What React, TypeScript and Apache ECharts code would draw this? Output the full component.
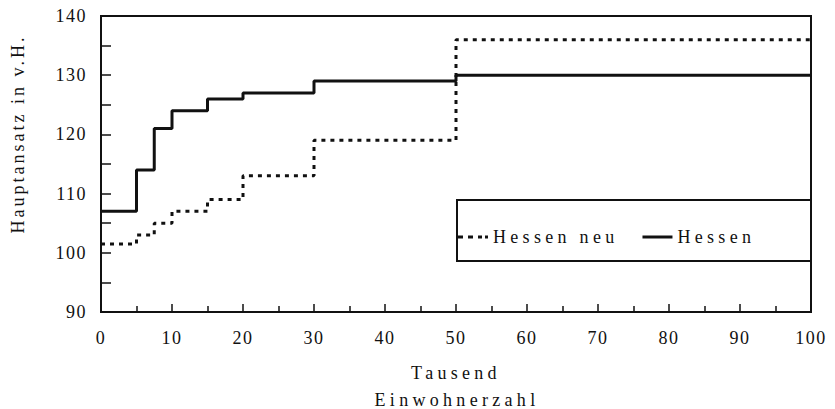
import React, { useEffect, useRef } from "react";
import * as echarts from "echarts";

const xBreaks = [0, 5, 7.5, 10, 15, 20, 30, 50, 100];
const hessen = [107, 114, 121, 124, 126, 127, 129, 130, 130];
const hessenNeu = [101.5, 103, 105, 107, 109, 113, 119, 136, 136];
const seriesNames = ["Hessen neu", "Hessen"];
const xTitle1 = "Tausend";
const xTitle2 = "Einwohnerzahl";
const yTitle = "Hauptansatz in v.H.";

const FONT = "'Liberation Serif', 'Times New Roman', serif";
const INK = "#111";
const DASH_ICON = "path://M0,0h5v3h-5z M10,0h5v3h-5z M20,0h4v3h-4z M27,0h3v3h-3z";
const SOLID_ICON = "path://M0,0h30v3h-30z";

export default function App() {
  const ref = useRef<HTMLDivElement>(null);
  useEffect(() => {
    if (!ref.current) return;
    const chart = echarts.init(ref.current, null, { renderer: "svg" });
    const wide = new Set([xTitle1, xTitle2, ...seriesNames]);
    const apply = () => {
      if (!ref.current) return;
      ref.current.querySelectorAll("text").forEach((t) => {
        const s = (t.textContent || "").trim();
        const el = t as SVGTextElement;
        if (s === yTitle) el.style.letterSpacing = "3px";
        else if (wide.has(s)) el.style.letterSpacing = "4.3px";
        else el.style.letterSpacing = "1.5px";
      });
    };
    chart.on("finished", apply);
    const toPairs = (ys: number[]) => xBreaks.map((x, i) => [x, ys[i]]);
    chart.setOption({
      animation: false,
      backgroundColor: "#fff",
      grid: {
        left: 101,
        right: 24,
        top: 16,
        bottom: 97,
        show: true,
        borderColor: INK,
        borderWidth: 2,
        backgroundColor: "transparent",
      },
      legend: {
        left: 458,
        top: 228,
        padding: 0,
        data: [
          { name: seriesNames[0], icon: DASH_ICON },
          { name: seriesNames[1], icon: SOLID_ICON },
        ],
        itemWidth: 30,
        itemHeight: 14,
        itemGap: 67,
        selectedMode: false,
        itemStyle: { color: INK, borderWidth: 0 },
        textStyle: { fontFamily: FONT, fontSize: 18, color: INK },
      },
      xAxis: {
        type: "value",
        min: 0,
        max: 100,
        interval: 10,
        axisLine: { show: true, onZero: false, lineStyle: { color: INK, width: 2 } },
        axisTick: { show: true, inside: true, length: 8, lineStyle: { color: INK, width: 1.5 } },
        minorTick: { show: true, splitNumber: 2, length: 6, lineStyle: { color: INK, width: 1.5 } },
        splitLine: { show: false },
        axisLabel: { color: INK, fontFamily: FONT, fontSize: 18, margin: 17 },
      },
      yAxis: {
        type: "value",
        min: 90,
        max: 140,
        interval: 10,
        axisLine: { show: true, onZero: false, lineStyle: { color: INK, width: 2 } },
        axisTick: { show: true, inside: true, length: 10, lineStyle: { color: INK, width: 1.5 } },
        minorTick: { show: true, splitNumber: 2, length: 10, lineStyle: { color: INK, width: 1.5 } },
        splitLine: { show: false },
        axisLabel: { color: INK, fontFamily: FONT, fontSize: 18, margin: 14 },
      },
      graphic: [
        {
          type: "rect",
          z: 1,
          shape: { x: 457, y: 200, width: 354, height: 61 },
          style: { fill: "#fff", stroke: INK, lineWidth: 2 },
        },
        {
          type: "text",
          x: 456,
          y: 373,
          style: { text: xTitle1, fontFamily: FONT, fontSize: 18, fill: INK, align: "center", verticalAlign: "middle" },
        },
        {
          type: "text",
          x: 457,
          y: 400,
          style: { text: xTitle2, fontFamily: FONT, fontSize: 18, fill: INK, align: "center", verticalAlign: "middle" },
        },
        {
          type: "text",
          x: 18,
          y: 134,
          rotation: Math.PI / 2,
          style: { text: yTitle, fontFamily: FONT, fontSize: 18, fill: INK, align: "center", verticalAlign: "middle" },
        },
      ],
      series: [
        {
          name: seriesNames[0],
          type: "line",
          step: "end",
          symbol: "none",
          silent: true,
          data: toPairs(hessenNeu),
          lineStyle: { color: INK, width: 3, type: [4, 5] },
          itemStyle: { color: INK },
        },
        {
          name: seriesNames[1],
          type: "line",
          step: "end",
          symbol: "none",
          silent: true,
          data: toPairs(hessen),
          lineStyle: { color: INK, width: 3 },
          itemStyle: { color: INK },
        },
      ],
    });
    apply();
    return () => {
      chart.off("finished", apply);
      chart.dispose();
    };
  }, []);
  return (
    <div
      ref={ref}
      style={{ position: "fixed", left: 0, top: 0, width: 835, height: 409, background: "#fff" }}
    />
  );
}
